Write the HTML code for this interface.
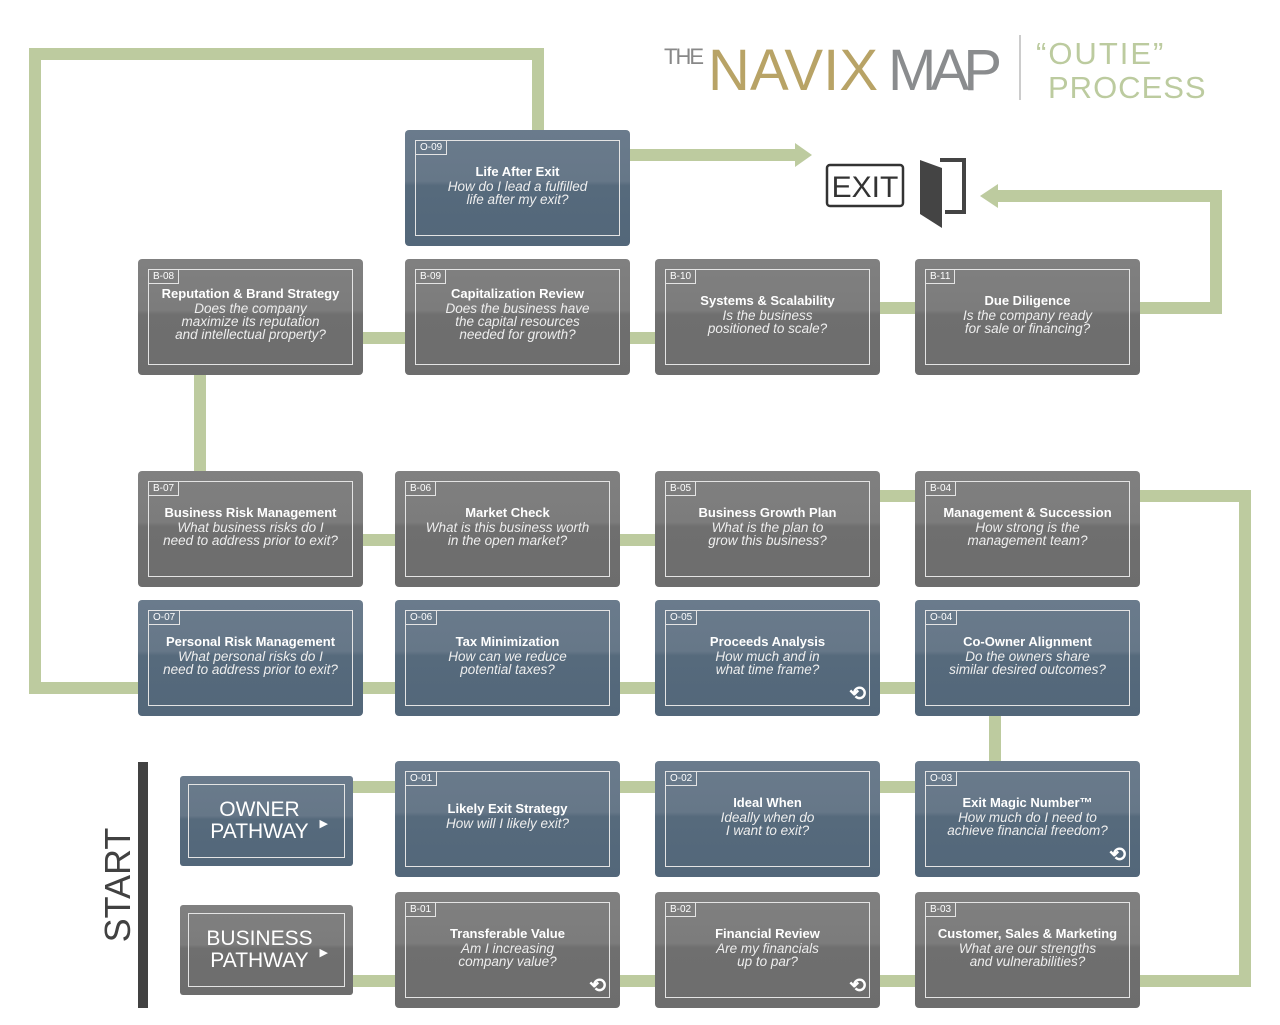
<!DOCTYPE html>
<html><head><meta charset="utf-8"><style>
body{margin:0;width:1280px;height:1025px;background:#fff;position:relative;overflow:hidden;font-family:"Liberation Sans",sans-serif}
.b{position:absolute;width:225px;height:116px;border-radius:4px;color:#fff;box-sizing:border-box}
.g{background:linear-gradient(#808080 0,#7c7c7c 44%,#6f6f6f 48%,#6d6d6d 100%)}
.u{background:linear-gradient(#6a7b8c 0,#667788 44%,#566a7c 48%,#53677a 100%)}
.in{position:absolute;left:10px;top:10px;right:10px;bottom:10px;border:1.5px solid #e4e4e4;display:flex;flex-direction:column;justify-content:center;align-items:center;text-align:center;padding-bottom:8px;box-sizing:border-box}
.tag{position:absolute;left:-1px;top:-1px;border:1.5px solid #e4e4e4;font-size:10px;padding:1px 4px;line-height:11px}
.t{font-weight:bold;font-size:13px;line-height:17px}
.d{font-style:italic;font-size:13.5px;line-height:13px;color:#eee}
.r{position:absolute;right:3px;bottom:2px;font-size:20px;font-weight:bold;line-height:18px}
.p{position:absolute;left:180px;width:173px;height:90px;border-radius:3px;color:#fff}
.p .in{padding:0 14px 0 0;font-size:21px;line-height:22px}
</style></head><body>
<svg width="1280" height="1025" style="position:absolute;left:0;top:0">
<g fill="none" stroke="#bdcb9f" stroke-width="12">
<polyline points="538,130 538,54 35,54 35,688 138,688"/>
<polyline points="630,155 800,155"/>
<polyline points="1140,308 1216,308 1216,196 995,196"/>
<line x1="363" y1="338" x2="405" y2="338"/><line x1="630" y1="338" x2="655" y2="338"/><line x1="880" y1="308" x2="915" y2="308"/>
<line x1="200" y1="375" x2="200" y2="471"/>
<line x1="363" y1="540" x2="395" y2="540"/><line x1="620" y1="540" x2="655" y2="540"/><line x1="880" y1="496" x2="915" y2="496"/>
<polyline points="1140,496 1245,496 1245,981 1140,981"/>
<line x1="363" y1="688" x2="395" y2="688"/><line x1="620" y1="688" x2="655" y2="688"/><line x1="880" y1="688" x2="915" y2="688"/>
<line x1="995" y1="716" x2="995" y2="761"/>
<line x1="353" y1="787" x2="395" y2="787"/><line x1="620" y1="787" x2="655" y2="787"/><line x1="880" y1="787" x2="915" y2="787"/>
<line x1="353" y1="981" x2="395" y2="981"/><line x1="620" y1="981" x2="655" y2="981"/><line x1="880" y1="981" x2="915" y2="981"/>
</g>
<polygon points="795,143 812,155 795,167" fill="#bdcb9f"/>
<polygon points="998,184 980,196 998,208" fill="#bdcb9f"/>
<rect x="138" y="762" width="10" height="246" fill="#414141"/>
<rect x="827" y="165" width="76" height="41" rx="3" fill="none" stroke="#333" stroke-width="2.5"/>
<text x="865" y="197" font-family="Liberation Sans" font-size="30" fill="#333" text-anchor="middle">EXIT</text>
<polyline points="940,160 964,160 964,212 945,212" fill="none" stroke="#444" stroke-width="4"/>
<polygon points="920,160 942,168 942,228 920,214" fill="#444"/>
<line x1="1020" y1="35" x2="1020" y2="100" stroke="#999" stroke-width="1"/>
<text x="664" y="64" font-size="22" fill="#888" font-family="Liberation Sans" textLength="40">THE</text>
<text x="708" y="90" font-size="58" fill="#b8a366" font-family="Liberation Sans" textLength="170">NAVIX</text>
<text x="888" y="90" font-size="58" fill="#8a8c8e" font-family="Liberation Sans" textLength="114">MAP</text>
<text x="1036" y="64" font-size="31" fill="#bccb9f" font-family="Liberation Sans" letter-spacing="2">“OUTIE”</text>
<text x="1048" y="98" font-size="31" fill="#bccb9f" font-family="Liberation Sans" letter-spacing="1">PROCESS</text>
<text transform="translate(130,885) rotate(-90)" font-size="36" fill="#414141" text-anchor="middle" font-family="Liberation Sans">START</text>
</svg>

<div class="b u" style="left:405px;top:130px"><div class="in"><span class="tag">O-09</span><div class="t">Life After Exit</div><div class="d">How do I lead a fulfilled<br>life after my exit?</div></div></div>

<div class="b g" style="left:138px;top:259px"><div class="in"><span class="tag">B-08</span><div class="t">Reputation &amp; Brand Strategy</div><div class="d">Does the company<br>maximize its reputation<br>and intellectual property?</div></div></div>
<div class="b g" style="left:405px;top:259px"><div class="in"><span class="tag">B-09</span><div class="t">Capitalization Review</div><div class="d">Does the business have<br>the capital resources<br>needed for growth?</div></div></div>
<div class="b g" style="left:655px;top:259px"><div class="in"><span class="tag">B-10</span><div class="t">Systems &amp; Scalability</div><div class="d">Is the business<br>positioned to scale?</div></div></div>
<div class="b g" style="left:915px;top:259px"><div class="in"><span class="tag">B-11</span><div class="t">Due Diligence</div><div class="d">Is the company ready<br>for sale or financing?</div></div></div>

<div class="b g" style="left:138px;top:471px"><div class="in"><span class="tag">B-07</span><div class="t">Business Risk Management</div><div class="d">What business risks do I<br>need to address prior to exit?</div></div></div>
<div class="b g" style="left:395px;top:471px"><div class="in"><span class="tag">B-06</span><div class="t">Market Check</div><div class="d">What is this business worth<br>in the open market?</div></div></div>
<div class="b g" style="left:655px;top:471px"><div class="in"><span class="tag">B-05</span><div class="t">Business Growth Plan</div><div class="d">What is the plan to<br>grow this business?</div></div></div>
<div class="b g" style="left:915px;top:471px"><div class="in"><span class="tag">B-04</span><div class="t">Management &amp; Succession</div><div class="d">How strong is the<br>management team?</div></div></div>

<div class="b u" style="left:138px;top:600px"><div class="in"><span class="tag">O-07</span><div class="t">Personal Risk Management</div><div class="d">What personal risks do I<br>need to address prior to exit?</div></div></div>
<div class="b u" style="left:395px;top:600px"><div class="in"><span class="tag">O-06</span><div class="t">Tax Minimization</div><div class="d">How can we reduce<br>potential taxes?</div></div></div>
<div class="b u" style="left:655px;top:600px"><div class="in"><span class="tag">O-05</span><div class="t">Proceeds Analysis</div><div class="d">How much and in<br>what time frame?</div><span class="r">⟲</span></div></div>
<div class="b u" style="left:915px;top:600px"><div class="in"><span class="tag">O-04</span><div class="t">Co-Owner Alignment</div><div class="d">Do the owners share<br>similar desired outcomes?</div></div></div>

<div class="p u" style="top:776px"><div class="in" style="left:8px;top:8px;right:8px;bottom:8px">OWNER<br>PATHWAY<span style="position:absolute;right:16px;top:28px;font-size:11px">▶</span></div></div>
<div class="p g" style="top:905px"><div class="in" style="left:8px;top:8px;right:8px;bottom:8px">BUSINESS<br>PATHWAY<span style="position:absolute;right:16px;top:28px;font-size:11px">▶</span></div></div>

<div class="b u" style="left:395px;top:761px"><div class="in"><span class="tag">O-01</span><div class="t">Likely Exit Strategy</div><div class="d">How will I likely exit?</div></div></div>
<div class="b u" style="left:655px;top:761px"><div class="in"><span class="tag">O-02</span><div class="t">Ideal When</div><div class="d">Ideally when do<br>I want to exit?</div></div></div>
<div class="b u" style="left:915px;top:761px"><div class="in"><span class="tag">O-03</span><div class="t">Exit Magic Number™</div><div class="d">How much do I need to<br>achieve financial freedom?</div><span class="r">⟲</span></div></div>

<div class="b g" style="left:395px;top:892px"><div class="in"><span class="tag">B-01</span><div class="t">Transferable Value</div><div class="d">Am I increasing<br>company value?</div><span class="r">⟲</span></div></div>
<div class="b g" style="left:655px;top:892px"><div class="in"><span class="tag">B-02</span><div class="t">Financial Review</div><div class="d">Are my financials<br>up to par?</div><span class="r">⟲</span></div></div>
<div class="b g" style="left:915px;top:892px"><div class="in"><span class="tag">B-03</span><div class="t">Customer, Sales &amp; Marketing</div><div class="d">What are our strengths<br>and vulnerabilities?</div></div></div>
</body></html>
